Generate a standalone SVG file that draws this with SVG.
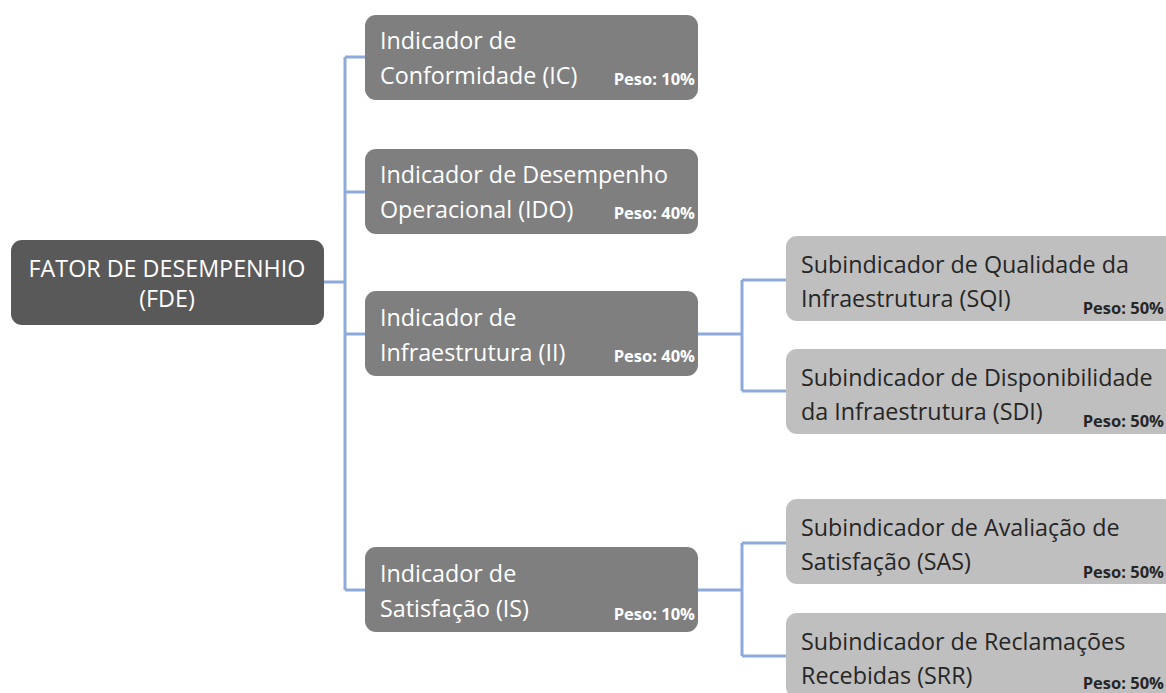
<svg xmlns="http://www.w3.org/2000/svg" width="1166" height="693" viewBox="0 0 1166 693">
<style>
.root{fill:#595959}
.ind{fill:#7f7f7f}
.sub{fill:#bfbfbf}
.t{font-family:"Open Sans","Noto Sans",sans-serif;font-size:23.3px}
.w{fill:#ffffff}
.d{fill:#262626}
.p{font-family:"Open Sans","Noto Sans",sans-serif;font-size:16.5px;font-weight:bold;text-anchor:end}
.c{fill:none;stroke:#8eaadb;stroke-width:3}
</style>
<rect width="1166" height="693" fill="#ffffff"/>
<g id="connectors">
<path class="c" d="M324 282H345M345 57V590M345 57H365M345 192H365M345 334H365M345 590H365"/>
<path class="c" d="M698 334H742M742 280V391M742 280H786M742 391H786"/>
<path class="c" d="M698 590H742M742 543V656M742 543H786M742 656H786"/>
</g>
<g id="fde">
<rect class="root" x="11" y="240" width="313" height="85" rx="11"/>
<text class="t w" x="167" y="277" text-anchor="middle">FATOR DE DESEMPENHIO</text>
<text class="t w" x="167" y="307" text-anchor="middle">(FDE)</text>
</g>
<g id="ic">
<rect class="ind" x="365" y="15" width="333" height="85" rx="11"/>
<text class="t w" x="380" y="49">Indicador de</text>
<text class="t w" x="380" y="84">Conformidade (IC)</text>
<text class="p w" x="695" y="85">Peso: 10%</text>
</g>
<g id="ido">
<rect class="ind" x="365" y="149" width="333" height="85" rx="11"/>
<text class="t w" x="380" y="183">Indicador de Desempenho</text>
<text class="t w" x="380" y="218">Operacional (IDO)</text>
<text class="p w" x="695" y="219">Peso: 40%</text>
</g>
<g id="ii">
<rect class="ind" x="365" y="291" width="333" height="85" rx="11"/>
<text class="t w" x="380" y="326">Indicador de</text>
<text class="t w" x="380" y="361">Infraestrutura (II)</text>
<text class="p w" x="695" y="362">Peso: 40%</text>
</g>
<g id="is">
<rect class="ind" x="365" y="547" width="333" height="85" rx="11"/>
<text class="t w" x="380" y="582">Indicador de</text>
<text class="t w" x="380" y="617">Satisfação (IS)</text>
<text class="p w" x="695" y="620">Peso: 10%</text>
</g>
<g id="sqi">
<rect class="sub" x="786" y="236" width="390" height="85" rx="11"/>
<text class="t d" x="801" y="273">Subindicador de Qualidade da</text>
<text class="t d" x="801" y="307">Infraestrutura (SQI)</text>
<text class="p d" x="1164" y="314">Peso: 50%</text>
</g>
<g id="sdi">
<rect class="sub" x="786" y="349" width="390" height="85" rx="11"/>
<text class="t d" x="801" y="386">Subindicador de Disponibilidade</text>
<text class="t d" x="801" y="420">da Infraestrutura (SDI)</text>
<text class="p d" x="1164" y="427">Peso: 50%</text>
</g>
<g id="sas">
<rect class="sub" x="786" y="499" width="390" height="85" rx="11"/>
<text class="t d" x="801" y="536">Subindicador de Avaliação de</text>
<text class="t d" x="801" y="570">Satisfação (SAS)</text>
<text class="p d" x="1164" y="578">Peso: 50%</text>
</g>
<g id="srr">
<rect class="sub" x="786" y="613" width="390" height="85" rx="11"/>
<text class="t d" x="801" y="650">Subindicador de Reclamações</text>
<text class="t d" x="801" y="684">Recebidas (SRR)</text>
<text class="p d" x="1164" y="689">Peso: 50%</text>
</g>
</svg>
